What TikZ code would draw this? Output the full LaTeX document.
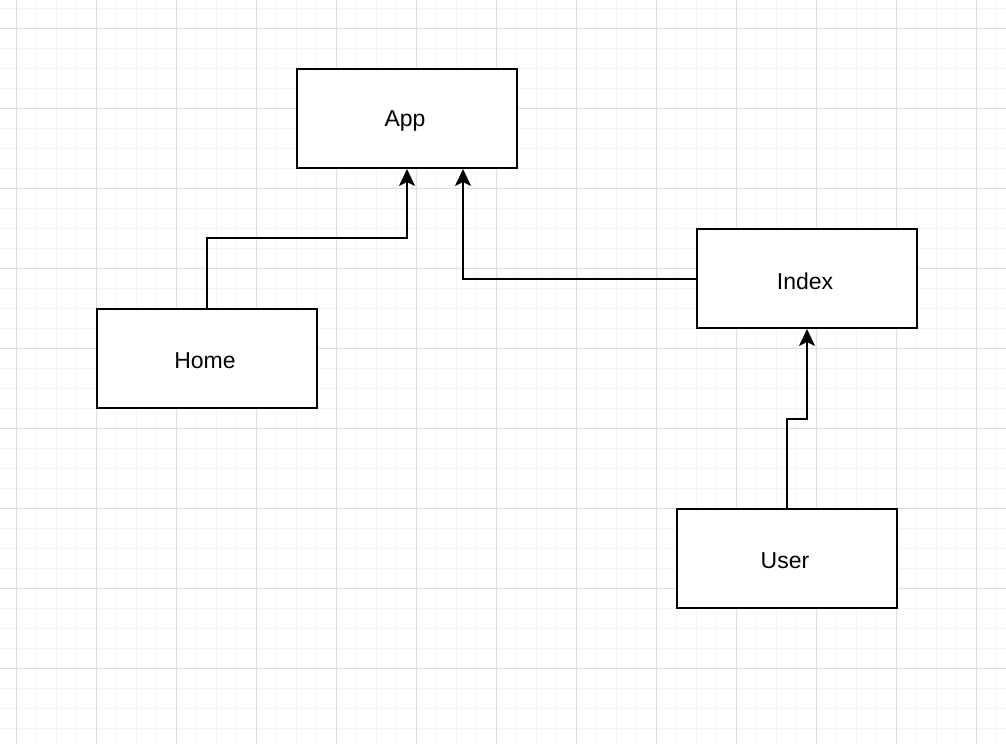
\documentclass[tikz,border=0pt]{standalone}
\usepackage{fontspec}
\setmainfont{Liberation Sans}
\usetikzlibrary{arrows.meta}
\definecolor{minorgrid}{HTML}{F4F4F4}
\definecolor{majorgrid}{HTML}{DCDCDC}
\tikzset{
  box/.style={draw=black, line width=2pt, fill=white, minimum width=220pt, minimum height=99pt, inner sep=0pt},
  lbl/.style={font=\fontsize{23}{27}\selectfont, inner sep=0pt},
  arr/.style={draw=black, line width=2pt, -{Stealth[length=17pt,width=16pt,inset=4pt]}},
  minorline/.style={draw=minorgrid, line width=1pt},
  majorline/.style={draw=majorgrid, line width=1pt}
}
\begin{document}
\begin{tikzpicture}[x=1pt,y=-1pt]
\useasboundingbox (0,0) rectangle (1006,744);
\fill[white] (0,0) rectangle (1006,744);
% minor grid
\foreach \x in {16,36,...,996} \draw[minorline] (\x,0) -- (\x,744);
\foreach \y in {8,28,...,740} \draw[minorline] (0,\y) -- (1006,\y);
% major grid
\foreach \x in {16,96,...,976} \draw[majorline] (\x,0) -- (\x,744);
\foreach \y in {28,108,...,668} \draw[majorline] (0,\y) -- (1006,\y);
% boxes
\node[box] (app) at (407,118.5) {};
\node[box] (home) at (207,358.5) {};
\node[box] (index) at (807,278.5) {};
\node[box] (user) at (787,558.5) {};
% labels
\node[lbl] (applbl) at ([xshift=-2pt,yshift=-2.5pt]app.center) {App};
\node[lbl] (homelbl) at ([xshift=-2pt,yshift=-2.5pt]home.center) {Home};
\node[lbl] (indexlbl) at ([xshift=-2pt,yshift=-2.5pt]index.center) {Index};
\node[lbl] (userlbl) at ([xshift=-2pt,yshift=-2.5pt]user.center) {User};
% connectors
\draw[arr] (home.north) -- ++(0,-70) -| (app.south);
\draw[arr] (index.west) -| ([xshift=56pt]app.south);
\draw[arr] (user.north) -- ++(0,-89) -| (index.south);
\end{tikzpicture}
\end{document}
